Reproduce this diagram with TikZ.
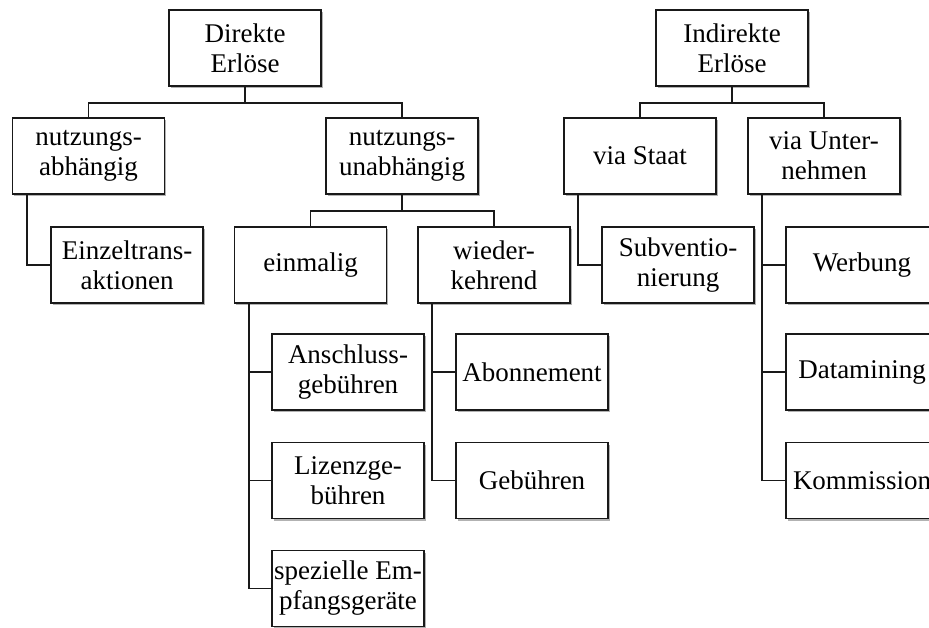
\documentclass[tikz,border=0pt]{standalone}
\usepackage{fontspec}
\setmainfont{Liberation Serif}
\usetikzlibrary{shadows}
\begin{document}
\begin{tikzpicture}[x=1pt,y=-1pt,
  box/.style={draw=black!90, line width=1.8pt, fill=white, minimum width=152pt, minimum height=76pt,
    inner sep=0pt, align=center, font=\fontsize{27}{30}\selectfont,
    drop shadow={shadow xshift=1.5pt, shadow yshift=-2pt, opacity=0.3, fill=black}},
  conn/.style={draw=black!90, line width=1.8pt}]
\useasboundingbox (0,0) rectangle (929,628);
\clip (0,0) rectangle (929,628);
% Direkte
\node[box] (de) at (245,48) {Direkte\\Erlöse};
\node[box] (na) at (88.5,156) {nutzungs-\\abhängig};
\node[box] (nu) at (402,156) {nutzungs-\\unabhängig};
\node[box] (ez) at (127,265) {Einzeltrans-\\aktionen};
\node[box] (em) at (310.5,265) {einmalig};
\node[box] (wk) at (494,265) {wieder-\\kehrend};
\node[box] (an) at (348,372) {Anschluss-\\gebühren};
\node[box] (li) at (348,480.5) {Lizenzge-\\bühren};
\node[box] (sp) at (348,588.5) {spezielle Em-\\pfangsgeräte};
\node[box] (ab) at (532,372) {Abonnement};
\node[box] (ge) at (532,480.5) {Gebühren};
% Indirekte
\node[box] (ie) at (732,48) {Indirekte\\Erlöse};
\node[box] (vs) at (640,156) {via Staat};
\node[box] (vu) at (824,156) {via Unter-\\nehmen};
\node[box] (sv) at (678,265) {Subventio-\\nierung};
\node[box] (wb) at (862,265) {Werbung};
\node[box] (dm) at (862,372) {Datamining};
\node[box] (ko) at (862,480.5) {Kommission};
% connectors
\draw[conn] (de.south) -- ++(0,16) -| (na.north);
\draw[conn] (de.south) -- ++(0,16) -| (nu.north);
\draw[conn] (nu.south) -- ++(0,16) -| (em.north);
\draw[conn] (nu.south) -- ++(0,16) -| (wk.north);
\draw[conn] (ie.south) -- ++(0,16) -| (vs.north);
\draw[conn] (ie.south) -- ++(0,16) -| (vu.north);
\draw[conn] ([xshift=15pt]na.south west) |- (ez.west);
\draw[conn] ([xshift=15pt]em.south west) |- (an.west);
\draw[conn] ([xshift=15pt]em.south west) |- (li.west);
\draw[conn] ([xshift=15pt]em.south west) |- (sp.west);
\draw[conn] ([xshift=15pt]wk.south west) |- (ab.west);
\draw[conn] ([xshift=15pt]wk.south west) |- (ge.west);
\draw[conn] ([xshift=15pt]vs.south west) |- (sv.west);
\draw[conn] ([xshift=15pt]vu.south west) |- (wb.west);
\draw[conn] ([xshift=15pt]vu.south west) |- (dm.west);
\draw[conn] ([xshift=15pt]vu.south west) |- (ko.west);
\end{tikzpicture}
\end{document}
